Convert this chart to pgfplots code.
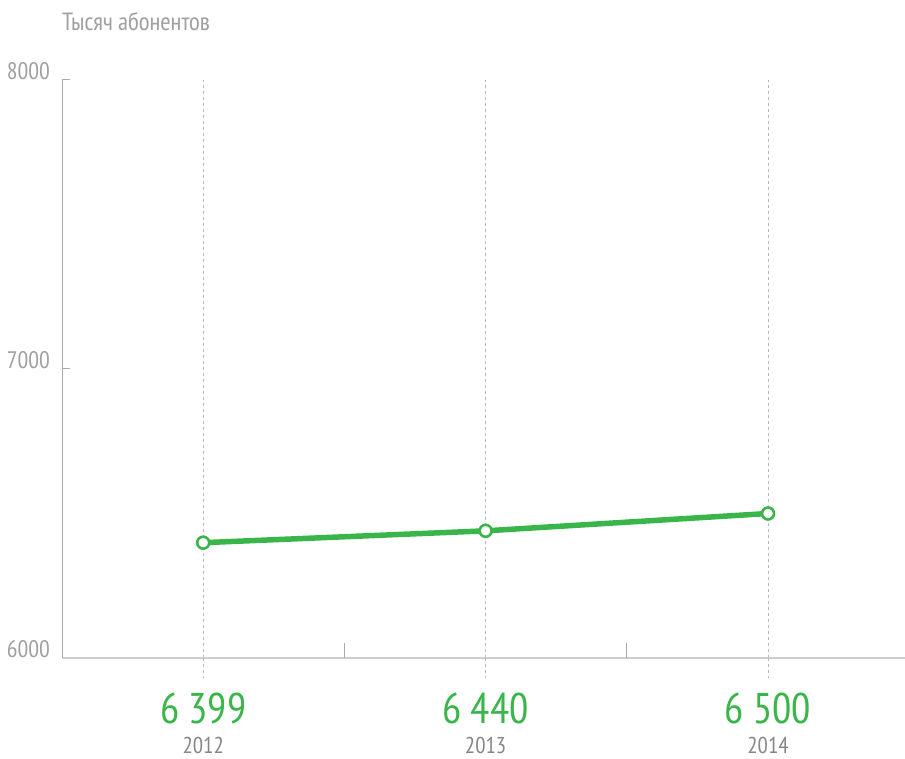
\documentclass[border=0pt]{standalone}
\usepackage{fontspec}
\setmainfont{PT Sans Narrow}
\usepackage{pgfplots}
\pgfplotsset{compat=1.18}
\definecolor{kgreen}{RGB}{58,181,74}
\definecolor{lblgray}{RGB}{160,160,160}
\definecolor{yeargray}{RGB}{135,135,135}
\definecolor{axgray}{RGB}{170,170,170}
\definecolor{basegray}{RGB}{205,205,205}
\definecolor{gridgray}{RGB}{185,185,185}

\begin{document}
\begin{tikzpicture}[x=1bp, y=1bp]
\useasboundingbox (0,0) rectangle (905,759);
\begin{axis}[
    at={(62bp,101bp)}, anchor=south west,
    scale only axis,
    width=843bp, height=578bp,
    xmin=2011.5, xmax=2014.485,
    ymin=6000, ymax=8000,
    axis x line=bottom, axis y line=left,
    x axis line style={-, draw=basegray, line width=1.8bp},
    y axis line style={-, draw=axgray, line width=1bp},
    tick align=inside,
    xtick={2012,2013,2014}, xticklabels={},
    xtick style={draw=none},
    xmajorgrids,
    major grid style={draw=gridgray, line width=0.8bp, dash pattern=on 3bp off 3bp},
    ytick={6000,7000,8000},
    yticklabels={6000,7000,8000},
    major tick length=8bp,
    ytick style={draw=axgray, line width=1bp},
    yticklabel style={anchor=south east, inner sep=0pt, xshift=-12bp,
        font=\fontsize{24}{24}\selectfont, text=lblgray},
    clip=false,
]
\addplot[kgreen, line width=5.5bp, mark=*, mark size=6bp,
    mark options={fill=white, draw=kgreen, line width=2.6bp}]
    coordinates {(2012,6399) (2013,6440) (2014,6500)};
\end{axis}

% short ticks between the years
\draw[draw=axgray, line width=1bp] (344,101) -- (344,116);
\draw[draw=axgray, line width=1bp] (626,101) -- (626,116);
% dashed guides continue below the base line
\foreach \x in {203.2,485.6,768}
  \draw[draw=gridgray, line width=0.8bp, dash pattern=on 3bp off 3bp] (\x,101) -- (\x,81);

\node[anchor=base, text=kgreen, font=\fontsize{43}{43}\selectfont] at (203.2,35) {6 399};
\node[anchor=base, text=kgreen, font=\fontsize{43}{43}\selectfont] at (485.6,35) {6 440};
\node[anchor=base, text=kgreen, font=\fontsize{43}{43}\selectfont] at (768,35) {6 500};
\node[anchor=base, text=yeargray, font=\fontsize{23}{23}\selectfont] at (203.2,5) {2012};
\node[anchor=base, text=yeargray, font=\fontsize{23}{23}\selectfont] at (485.6,5) {2013};
\node[anchor=base, text=yeargray, font=\fontsize{23}{23}\selectfont] at (768,5) {2014};

\node[anchor=base west, inner sep=0pt, text=lblgray, font=\fontsize{25}{25}\selectfont]
  at (62,728) {Тысяч абонентов};
\end{tikzpicture}
\end{document}
